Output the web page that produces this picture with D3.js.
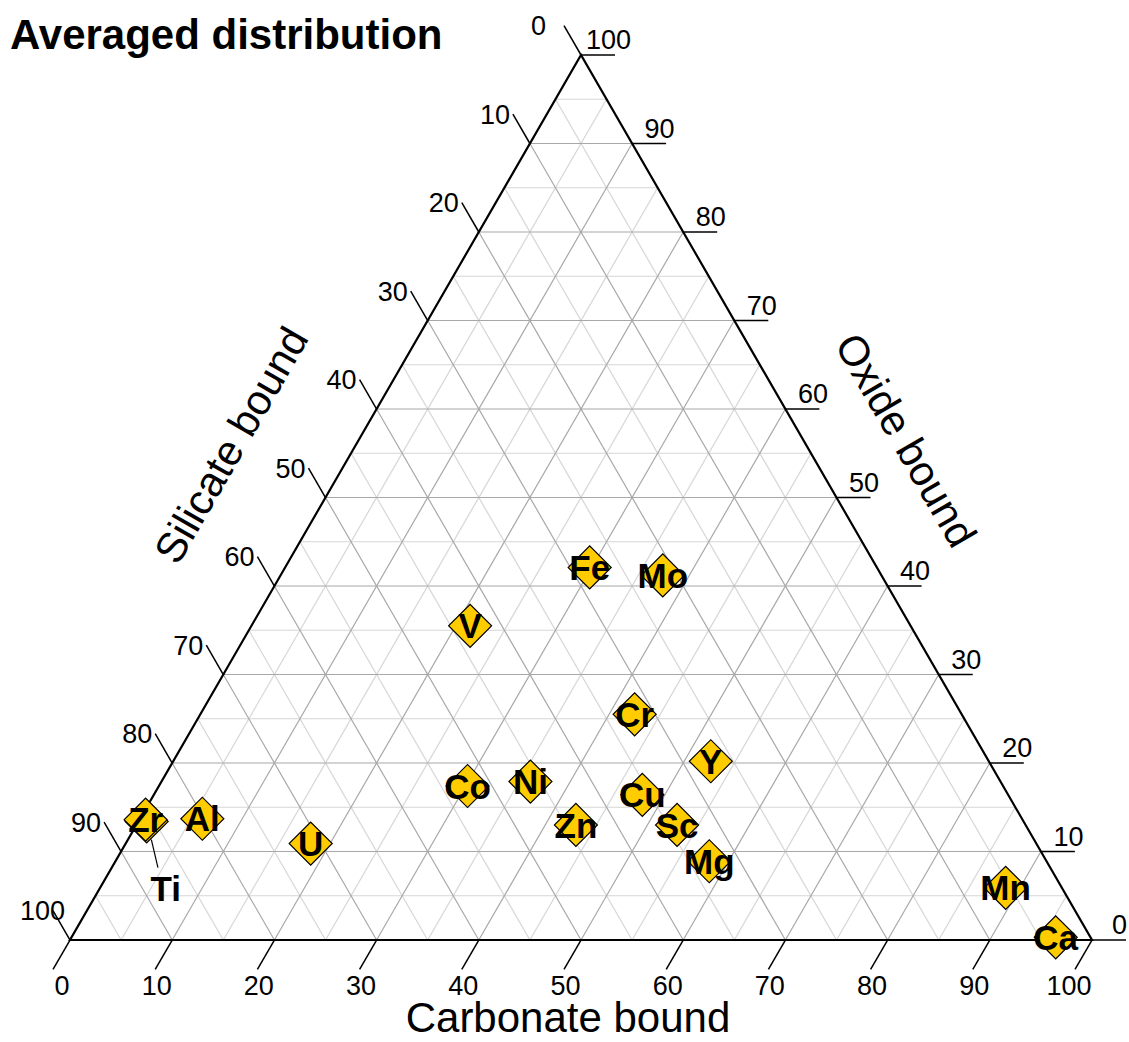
<!DOCTYPE html>
<html>
<head>
<meta charset="utf-8">
<script src="https://cdn.jsdelivr.net/npm/d3@7"></script>
<style>
  body { margin: 0; background: #fff; }
  svg { display: block; font-family: "Liberation Sans", Arial, sans-serif; }
</style>
</head>
<body>
<svg id="ternary" width="1129" height="1042"></svg>
<script>
(function() {
  // element labels and their composition (%)
  const elements  = ["Ti", "Zr", "Al", "U", "V", "Fe", "Mo", "Cr", "Y", "Co", "Ni", "Zn", "Cu", "Sc", "Mg", "Mn", "Ca"];
  const carbonate = [0.8, 0.6, 6.1, 18.1, 21.4, 29.8, 37.4, 42.5, 52.6, 30.2, 36.1, 43.0, 47.8, 52.9, 58.1, 88.6, 96.3];
  const oxide     = [13.4, 13.6, 13.7, 10.9, 35.5, 42.1, 41.2, 25.5, 20.2, 17.4, 17.9, 13.0, 16.4, 13.0, 8.9, 5.9, 0.3];
  const silicate  = carbonate.map((c, i) => +(100 - c - oxide[i]).toFixed(1));

  const tickValues = [0, 10, 20, 30, 40, 50, 60, 70, 80, 90, 100];
  const gridValues = d3.range(5, 100, 5);

  const INK = "#000";
  const GOLD = "#ffcc00";

  const svg = d3.select("#ternary");

  // bottom axis runs left->right, height axis bottom->top
  const x = d3.scaleLinear().domain([0, 100]).range([70, 1092]);
  const y = d3.scaleLinear().domain([0, 100]).range([940, 55]);

  // ternary -> screen (carbonate, oxide; silicate is the remainder)
  const project = (c, o) => [x(c + o / 2), y(o)];

  const data = elements.map((name, i) => ({
    name, c: carbonate[i], s: silicate[i], o: oxide[i]
  }));

  // Grid lines every 5 units, darker on the tens
  const grid = svg.append("g");
  const gridLines = [];
  gridValues.forEach(k => {
    gridLines.push({ k, a: project(0, k), b: project(100 - k, k) });        // oxide
    gridLines.push({ k, a: project(k, 0), b: project(k, 100 - k) });        // carbonate
    gridLines.push({ k, a: project(100 - k, 0), b: project(0, 100 - k) });  // silicate
  });
  grid.selectAll("line")
    .data(gridLines.sort((p, q) => (p.k % 10 === 0) - (q.k % 10 === 0)))
    .join("line")
    .attr("x1", d => d.a[0]).attr("y1", d => d.a[1])
    .attr("x2", d => d.b[0]).attr("y2", d => d.b[1])
    .attr("stroke", d => d.k % 10 === 0 ? "#a8a8a8" : "#d6d6d6")
    .attr("stroke-width", 1.2);

  // Triangle frame
  const corners = [project(0, 0), project(100, 0), project(0, 100)];
  svg.append("path")
    .attr("d", d3.line()(corners) + "Z")
    .attr("fill", "none")
    .attr("stroke", INK)
    .attr("stroke-width", 2.2)
    .attr("stroke-linejoin", "miter");

  const TICK = 34;
  const ticks = svg.append("g").attr("stroke", INK).attr("stroke-width", 1.5);
  const labels = svg.append("g").attr("font-size", 27).attr("fill", INK);

  // Carbonate (bottom): ticks point down-left
  tickValues.forEach(v => {
    const [px, py] = project(v, 0);
    const ex = px - TICK * 0.5, ey = py + TICK * 0.866;
    ticks.append("line").attr("x1", px).attr("y1", py).attr("x2", ex).attr("y2", ey);
    labels.append("text")
      .attr("x", ex + 16.5).attr("y", py + 55)
      .attr("text-anchor", "end")
      .text(v);
  });

  // Silicate (left): 0 at top, 100 at bottom-left; ticks point up-left
  tickValues.forEach(v => {
    const [px, py] = project(0, 100 - v);
    const ex = px - TICK * 0.5, ey = py - TICK * 0.866;
    ticks.append("line").attr("x1", px).attr("y1", py).attr("x2", ex).attr("y2", ey);
    labels.append("text")
      .attr("x", ex - 33).attr("y", ey)
      .attr("dy", "0.35em")
      .attr("text-anchor", "start")
      .text(v);
  });

  // Oxide (right): 100 at top, 0 at bottom-right; ticks point right
  tickValues.forEach(v => {
    const [px, py] = project(100 - v, v);
    ticks.append("line").attr("x1", px).attr("y1", py).attr("x2", px + TICK).attr("y2", py);
    labels.append("text")
      .attr("x", px + 27.5).attr("y", py - 6)
      .attr("text-anchor", "middle")
      .text(v);
  });

  // Axis titles
  svg.append("text")
    .attr("x", 568).attr("y", 1032)
    .attr("text-anchor", "middle")
    .attr("font-size", 42)
    .text("Carbonate bound");

  svg.append("text")
    .attr("transform", "translate(231,445) rotate(-60)")
    .attr("text-anchor", "middle")
    .attr("dy", "0.35em")
    .attr("font-size", 42)
    .text("Silicate bound");

  svg.append("text")
    .attr("transform", "translate(906,440) rotate(60)")
    .attr("text-anchor", "middle")
    .attr("dy", "0.35em")
    .attr("font-size", 42)
    .text("Oxide bound");

  // Title
  svg.append("text")
    .attr("x", 10).attr("y", 49)
    .attr("font-size", 42)
    .attr("font-weight", "bold")
    .text("Averaged distribution");

  // Markers (diamonds)
  const diamond = d3.symbol().type(d3.symbolSquare).size(925);
  const pts = svg.append("g");
  pts.selectAll("path")
    .data(data)
    .join("path")
    .attr("d", diamond)
    .attr("transform", d => {
      const [px, py] = project(d.c, d.o);
      return `translate(${px},${py}) rotate(45)`;
    })
    .attr("fill", GOLD)
    .attr("stroke", INK)
    .attr("stroke-width", 1.2);

  // Ti sits under Zr, so its label is pulled out with a leader line
  const offsets = { Ti: [19, 67] };
  const ti = data.find(d => d.name === "Ti");
  const [tx, ty] = project(ti.c, ti.o);
  svg.append("line")
    .attr("x1", tx + 4.7).attr("y1", ty + 18.3)
    .attr("x2", tx + 11.3).attr("y2", ty + 46.3)
    .attr("stroke", INK)
    .attr("stroke-width", 1.2);

  svg.append("g")
    .attr("font-size", 35)
    .attr("font-weight", "bold")
    .attr("text-anchor", "middle")
    .selectAll("text")
    .data(data)
    .join("text")
    .attr("x", d => project(d.c, d.o)[0] + (offsets[d.name] ? offsets[d.name][0] : 0))
    .attr("y", d => project(d.c, d.o)[1] + (offsets[d.name] ? offsets[d.name][1] : 0))
    .attr("dy", "0.36em")
    .text(d => d.name);
})();
</script>
</body>
</html>
